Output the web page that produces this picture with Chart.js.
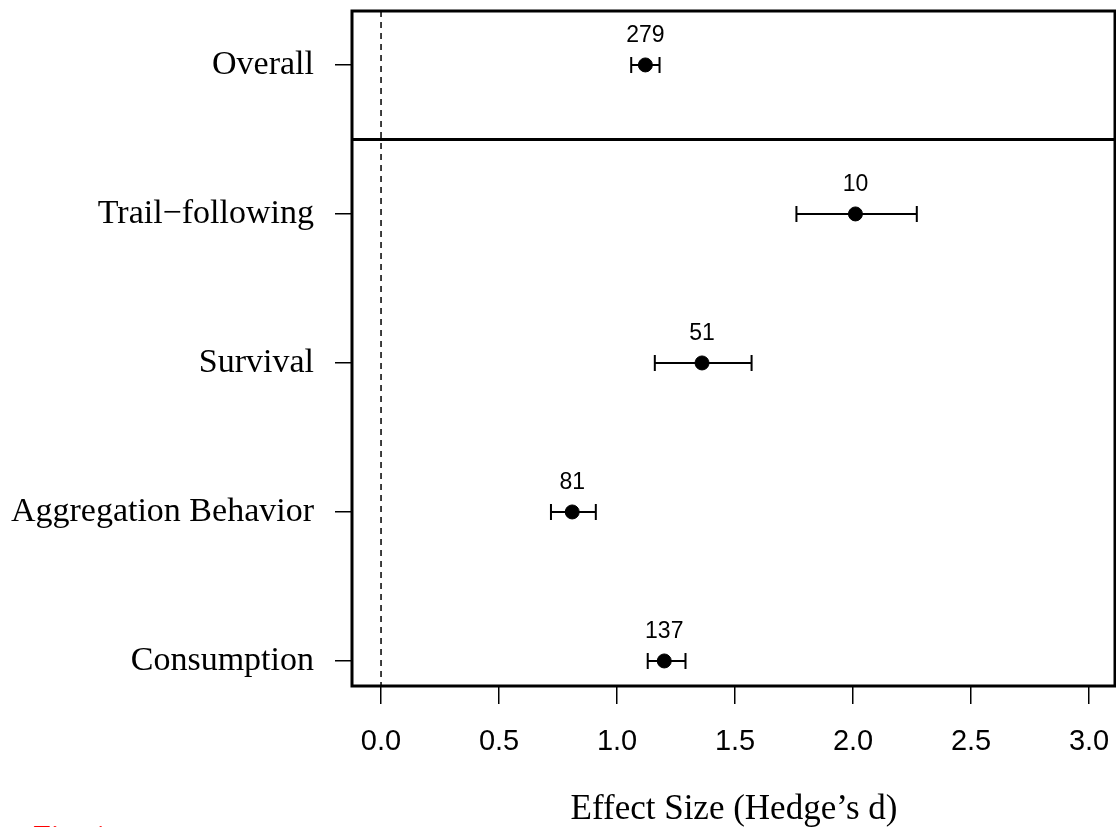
<!DOCTYPE html>
<html lang="en">
  <head>
    <meta charset="UTF-8" />
    <title>Effect Size by Response Type</title>
    <script src="https://cdn.jsdelivr.net/npm/chart.js"></script>
    <style>
      html, body { margin: 0; padding: 0; background: #fff; }
      #wrap { width: 1116px; height: 827px; position: relative; }
    </style>
  </head>
  <body>
    <div id="wrap"><canvas id="forest"></canvas></div>

    <script>
      // Forest plot data: mean effect and 95% CI per response category
      const categories = ["Overall", "Trail\u2212following", "Survival", "Aggregation Behavior", "Consumption"];
      const effectSize = [1.12, 2.01, 1.36, 0.81, 1.20];
      const ciLower = [1.06, 1.76, 1.16, 0.72, 1.13];
      const ciUpper = [1.18, 2.27, 1.57, 0.91, 1.29];
      const sampleSize = [279, 10, 51, 81, 137];
      const xTicks = [0, 0.5, 1, 1.5, 2, 2.5, 3];

      const serif = "'Liberation Serif', 'Times New Roman', serif";
      const sans = "'Liberation Sans', Arial, sans-serif";

      // box, divider, reference line, error bars and n labels
      const forestPlugin = {
        id: "forestExtras",
        beforeDatasetsDraw(chart) {
          const { ctx, chartArea: a, scales: { x, y } } = chart;
          ctx.save();
          // dashed line at zero effect
          ctx.strokeStyle = "#000";
          ctx.lineWidth = 1.5;
          ctx.setLineDash([6, 5]);
          ctx.beginPath();
          ctx.moveTo(x.getPixelForValue(0), a.top);
          ctx.lineTo(x.getPixelForValue(0), a.bottom);
          ctx.stroke();
          ctx.setLineDash([]);

          // confidence intervals
          ctx.lineWidth = 2;
          categories.forEach((c, i) => {
            const py = y.getPixelForValue(i);
            const x0 = x.getPixelForValue(ciLower[i]);
            const x1 = x.getPixelForValue(ciUpper[i]);
            ctx.beginPath();
            ctx.moveTo(x0, py);
            ctx.lineTo(x1, py);
            ctx.moveTo(x0, py - 8);
            ctx.lineTo(x0, py + 8);
            ctx.moveTo(x1, py - 8);
            ctx.lineTo(x1, py + 8);
            ctx.stroke();
          });

          // sample sizes above each estimate
          ctx.fillStyle = "#000";
          ctx.font = "23px " + sans;
          ctx.textAlign = "center";
          ctx.textBaseline = "middle";
          categories.forEach((c, i) => {
            ctx.fillText(String(sampleSize[i]), x.getPixelForValue(effectSize[i]), y.getPixelForValue(i) - 29);
          });
          ctx.restore();
        },
        afterDraw(chart) {
          const { ctx, chartArea: a, scales: { y } } = chart;
          ctx.save();
          ctx.strokeStyle = "#000";
          ctx.lineWidth = 3;
          ctx.strokeRect(a.left, a.top, a.right - a.left - 1, a.bottom - a.top);
          // separates the overall estimate from the subgroups
          const yd = y.getPixelForValue(0.5);
          ctx.beginPath();
          ctx.moveTo(a.left, yd);
          ctx.lineTo(a.right, yd);
          ctx.stroke();

          ctx.fillStyle = "#ff0000";
          ctx.font = "32px " + serif;
          ctx.textAlign = "left";
          ctx.textBaseline = "top";
          ctx.fillText("Fig. 1", 33, 823);
          ctx.restore();
        },
      };

      new Chart(document.getElementById("forest"), {
        type: "scatter",
        data: {
          datasets: [
            {
              data: effectSize.map((v, i) => ({ x: v, y: i })),
              backgroundColor: "#000",
              borderColor: "#000",
              pointRadius: 7,
              pointHoverRadius: 7,
            },
          ],
        },
        options: {
          responsive: true,
          maintainAspectRatio: false,
          animation: false,
          layout: { autoPadding: false, padding: { top: 11, right: 0, left: 0, bottom: 0 } },
          plugins: { legend: { display: false }, tooltip: { enabled: false } },
          scales: {
            x: {
              type: "linear",
              min: -0.123,
              max: 3.114,
              afterBuildTicks: (axis) => {
                axis.ticks = xTicks.map((v) => ({ value: v }));
              },
              afterFit: (axis) => {
                axis.height = 141;
                axis.paddingLeft = 0;
                axis.paddingRight = 0;
              },
              grid: { drawOnChartArea: false, tickLength: 18, color: "#000", lineWidth: 1.5 },
              border: { display: false },
              ticks: {
                color: "#000",
                font: { family: sans, size: 29 },
                padding: 21,
                maxRotation: 0,
                callback: (v) => Number(v).toFixed(1),
              },
              title: {
                display: true,
                text: "Effect Size (Hedge\u2019s d)",
                color: "#000",
                font: { family: serif, size: 35, lineHeight: 1 },
                padding: { top: 0, bottom: 0 },
              },
            },
            y: {
              type: "linear",
              reverse: true,
              min: -0.362,
              max: 4.168,
              afterBuildTicks: (axis) => {
                axis.ticks = categories.map((c, i) => ({ value: i }));
              },
              afterFit: (axis) => {
                axis.width = 352;
                axis.paddingTop = 0;
                axis.paddingBottom = 0;
              },
              grid: { drawOnChartArea: false, tickLength: 17, color: "#000", lineWidth: 1.5 },
              border: { display: false },
              ticks: {
                color: "#000",
                font: { family: serif, size: 34 },
                padding: 21,
                callback: (v) => categories[v],
              },
            },
          },
        },
        plugins: [forestPlugin],
      });
    </script>
  </body>
</html>
